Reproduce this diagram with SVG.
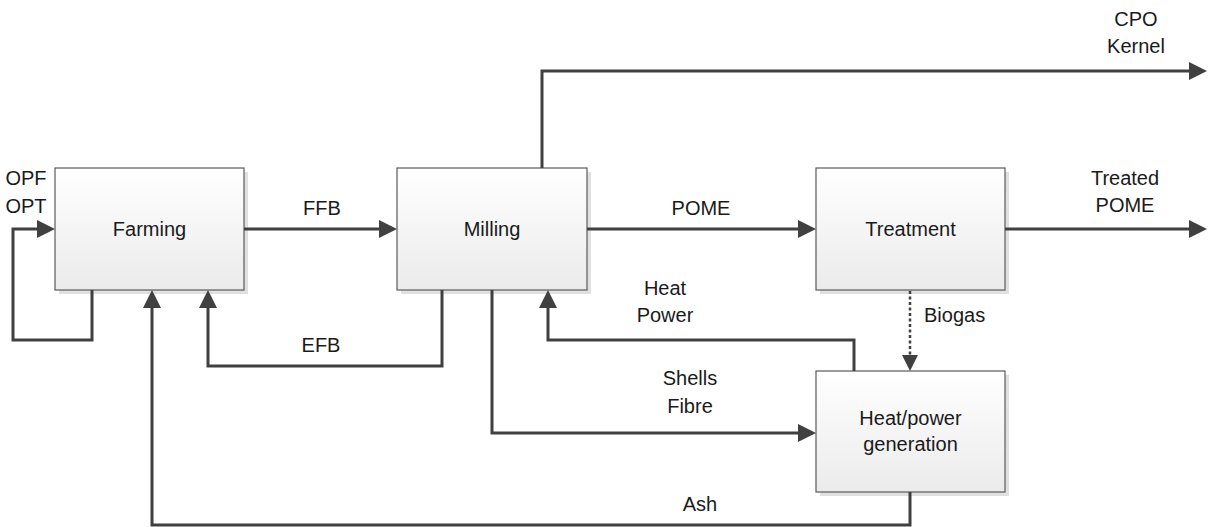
<svg xmlns="http://www.w3.org/2000/svg" width="1211" height="527" viewBox="0 0 1211 527">
<style>
.box{fill:url(#g);stroke:#5a5a5a;stroke-width:1.2}
.sh{fill:#e0e0e0}
.t{font-family:"Liberation Sans",Arial,sans-serif;font-size:20px;fill:#1a1a1a;text-anchor:middle}
.c{fill:none;stroke:#404040;stroke-width:3;marker-end:url(#a)}
.d{fill:none;stroke:#404040;stroke-width:2.5;stroke-dasharray:3 2.5;marker-end:url(#a2)}
</style>
<defs>
<linearGradient id="g" x1="0" y1="0" x2="0" y2="1">
<stop offset="0" stop-color="#ffffff"/>
<stop offset="1" stop-color="#ebebeb"/>
</linearGradient>
<marker id="a" markerUnits="userSpaceOnUse" markerWidth="18" markerHeight="18" refX="14" refY="9" orient="auto">
<path d="M0,0 L18,9 L0,18 z" fill="#404040"/>
</marker>
<marker id="a2" markerUnits="userSpaceOnUse" markerWidth="16" markerHeight="16" refX="12" refY="8" orient="auto">
<path d="M0,0 L16,8 L0,16 z" fill="#404040"/>
</marker>
</defs>
<rect width="1211" height="527" fill="#ffffff"/>
<g id="farming">
<rect class="sh" x="59" y="172" width="189" height="122"/>
<rect class="box" x="55" y="168" width="189" height="122"/>
<text class="t" x="149.5" y="236">Farming</text>
</g>
<g id="milling">
<rect class="sh" x="401" y="172" width="190" height="122"/>
<rect class="box" x="397" y="168" width="190" height="122"/>
<text class="t" x="492" y="236">Milling</text>
</g>
<g id="treatment">
<rect class="sh" x="820" y="172" width="189" height="122"/>
<rect class="box" x="816" y="168" width="189" height="122"/>
<text class="t" x="910.5" y="236">Treatment</text>
</g>
<g id="heatpower">
<rect class="sh" x="820" y="375" width="189" height="121"/>
<rect class="box" x="816" y="371" width="189" height="121"/>
<text class="t" x="910.5" y="425">Heat/power</text>
<text class="t" x="910.5" y="451">generation</text>
</g>
<g id="connectors">
<path class="c" d="M92,290 V340 H13 V229 H51"/>
<path class="c" d="M244,229 H393"/>
<path class="c" d="M587,229 H812"/>
<path class="c" d="M1005,229 H1203"/>
<path class="c" d="M542,168 V71 H1203"/>
<path class="c" d="M442,290 V366 H208 V294"/>
<path class="c" d="M910,492 V525 H152 V294"/>
<path class="c" d="M854,371 V340 H548 V294"/>
<path class="c" d="M492,290 V433 H812"/>
<path class="d" d="M910,291 V367"/>
</g>
<g id="labels">
<text class="t" x="26" y="185">OPF</text>
<text class="t" x="26" y="213">OPT</text>
<text class="t" x="322" y="215">FFB</text>
<text class="t" x="701" y="215">POME</text>
<text class="t" x="1125" y="185">Treated</text>
<text class="t" x="1125" y="212">POME</text>
<text class="t" x="1136" y="26">CPO</text>
<text class="t" x="1136" y="53">Kernel</text>
<text class="t" x="321" y="352">EFB</text>
<text class="t" x="665" y="295">Heat</text>
<text class="t" x="665" y="322">Power</text>
<text class="t" x="924" y="322" style="text-anchor:start">Biogas</text>
<text class="t" x="690" y="385">Shells</text>
<text class="t" x="690" y="413">Fibre</text>
<text class="t" x="700" y="511">Ash</text>
</g>
</svg>
